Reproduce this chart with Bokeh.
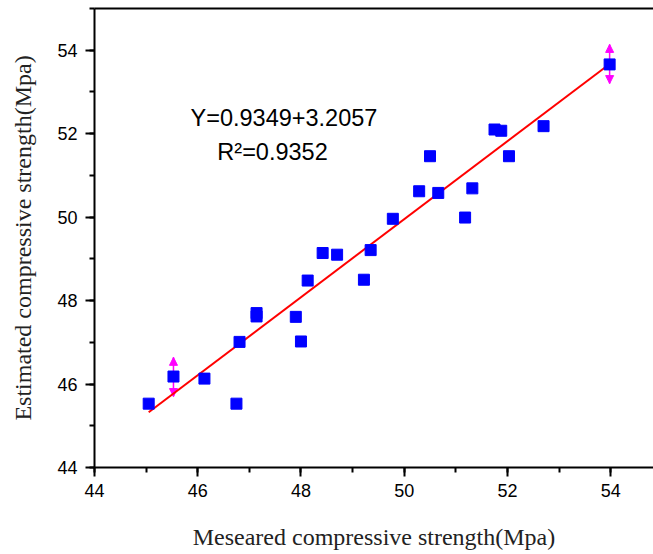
from bokeh.plotting import figure
from bokeh.models import (ColumnDataSource, Whisker, NormalHead, Label,
                          SingleIntervalTicker, FixedTicker, LinearAxis, Range1d)
from bokeh.embed import file_html
from bokeh.resources import INLINE

# ---- data ----
measured = [45.05, 45.53, 46.13, 46.75, 46.81, 47.14, 47.14, 47.90, 48.00, 48.13,
            48.42, 48.70, 49.22, 49.35, 49.78, 50.29, 50.50, 50.66, 51.18, 51.32,
            51.75, 51.88, 52.03, 52.70, 53.98]
estimated = [45.53, 46.18, 46.13, 45.53, 47.01, 47.62, 47.70, 47.61, 47.02, 48.48,
             49.14, 49.10, 48.50, 49.21, 49.96, 50.62, 51.46, 50.58, 49.99, 50.69,
             52.10, 52.07, 51.46, 52.18, 53.66]
err_x = [45.53, 53.98]
err_y = [46.17, 53.67]
err_half = [0.47, 0.47]
slope = 0.9349
intercept = 3.2057
eq_text = "Y=0.9349+3.2057"
r2_text = "R\u00b2=0.9352"
tick_interval = 2

p = figure(width=653, height=554, output_backend="svg", toolbar_location=None,
           x_range=Range1d(44, 54.83), y_range=Range1d(44, 55),
           min_border_left=94, min_border_right=0, min_border_top=8,
           min_border_bottom=87)
p.outline_line_color = None
p.background_fill_color = "white"
p.border_fill_color = "white"
p.xgrid.visible = False
p.ygrid.visible = False

for ax in (p.xaxis[0], p.yaxis[0]):
    ax.ticker = SingleIntervalTicker(interval=tick_interval, num_minor_ticks=2)
    ax.axis_line_width = 2
    ax.axis_line_color = "black"
    ax.major_tick_line_width = 2
    ax.minor_tick_line_width = 2
    ax.major_tick_in = 0
    ax.major_tick_out = 9
    ax.minor_tick_in = 0
    ax.minor_tick_out = 5
    ax.major_label_text_font = "Liberation Sans"
    ax.major_label_text_font_size = "18px"
    ax.major_label_text_color = "black"
    ax.axis_label_text_font = "Liberation Serif"
    ax.axis_label_text_font_size = "24px"
    ax.axis_label_text_font_style = "normal"
    ax.axis_label_text_color = "#222222"

p.xaxis.axis_label = "Meseared compressive strength(Mpa)"
p.yaxis.axis_label = "Estimated compressive strength(Mpa)"
p.xaxis.major_label_standoff = 7
p.yaxis.major_label_standoff = 8
p.xaxis.axis_label_standoff = 24
p.yaxis.axis_label_standoff = 18

top = LinearAxis(ticker=FixedTicker(ticks=[]), axis_line_width=2, axis_line_color="black",
                 major_tick_out=0, minor_tick_out=0, major_tick_in=0, minor_tick_in=0,
                 major_label_standoff=0)
p.add_layout(top, "above")

# regression line
lx = [min(measured), max(measured)]
ly = [slope * v + intercept for v in lx]
p.line(lx, ly, line_color="#FF0000", line_width=2)

# error bars
src_err = ColumnDataSource(dict(base=err_x,
                                upper=[y + e for y, e in zip(err_y, err_half)],
                                lower=[y - e for y, e in zip(err_y, err_half)]))
w = Whisker(source=src_err, base="base", upper="upper", lower="lower",
            dimension="height", line_color="#FF00FF", line_width=1.5,
            upper_head=NormalHead(size=8, fill_color="#FF00FF", line_color="#FF00FF"),
            lower_head=NormalHead(size=8, fill_color="#FF00FF", line_color="#FF00FF"))
p.add_layout(w)

# points
p.scatter(measured, estimated, marker="square", size=11,
          fill_color="#0000FF", line_color="#0000FF")

# equation text
p.add_layout(Label(x=45.86, y=52.37, text=eq_text, text_font="Liberation Sans",
                   text_font_size="23.5px", text_baseline="middle", text_color="black"))
p.add_layout(Label(x=46.38, y=51.56, text=r2_text, text_font="Liberation Sans",
                   text_font_size="23.5px", text_baseline="middle", text_color="black"))

open("out.html", "w").write(file_html(p, INLINE))
